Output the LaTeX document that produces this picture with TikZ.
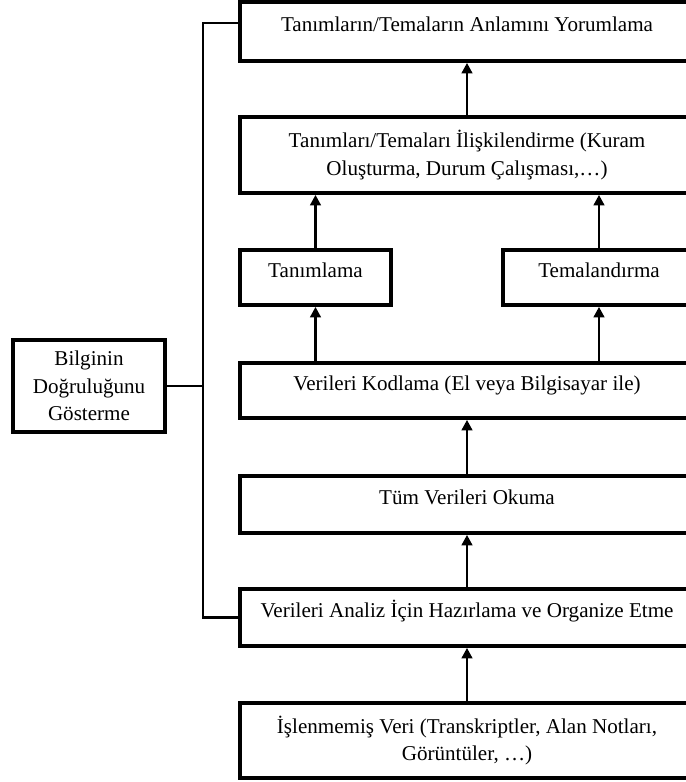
\documentclass[tikz,border=0pt]{standalone}
\usepackage{fontspec}
\setmainfont{Liberation Serif}
\usepackage{tikz}
\usetikzlibrary{arrows.meta,positioning}

\begin{document}
\begin{tikzpicture}[
    x=0.02cm, y=-0.02cm,
    mainbox/.style={draw, line width=2.1pt, inner sep=0pt,
                    minimum width=9.08cm, align=center,
                    font=\fontsize{12}{15.5}\selectfont},
    onerow/.style={text height=8.5pt, text depth=8.5pt},
    smallbox/.style={mainbox, minimum width=3.02cm},
    arr/.style={-{Triangle[length=6pt,width=6pt]}, line width=1.6pt},
    link/.style={line width=1.6pt}
  ]
  \useasboundingbox (0,0) rectangle (686,782);
  % Main column, top to bottom
  \node[mainbox, onerow, minimum height=1.18cm] (yorum) at (467,31.5)
        {Tanımların/Temaların Anlamını Yorumlama};
  \node[mainbox, minimum height=1.52cm] (iliski) at (467,155)
        {Tanımları/Temaları İlişkilendirme (Kuram\\Oluşturma, Durum Çalışması,\ldots)};
  \node[smallbox, onerow, minimum height=1.1cm] (tanim) at (315.5,277.5) {Tanımlama};
  \node[smallbox, onerow, minimum height=1.1cm, minimum width=3.84cm] (tema) at (599,277.5)
        {Temalandırma};
  \node[mainbox, onerow, minimum height=1.1cm] (kodla) at (467,390.5)
        {Verileri Kodlama (El veya Bilgisayar ile)};
  \node[mainbox, onerow, minimum height=1.14cm] (okuma) at (467,504.5)
        {Tüm Verileri Okuma};
  \node[mainbox, onerow, minimum height=1.14cm] (analiz) at (467,617.5)
        {Verileri Analiz İçin Hazırlama ve Organize Etme};
  \node[mainbox, minimum height=1.5cm] (ham) at (467,740.5)
        {İşlenmemiş Veri (Transkriptler, Alan Notları,\\Görüntüler, \ldots)};
  % Side box
  \node[smallbox, minimum width=3.04cm, minimum height=1.84cm] (bilgi) at (89,386)
        {Bilginin\\Doğruluğunu\\Gösterme};
  \coordinate (spine) at (203,0);
  % Arrows
  \draw[arr] (ham) -- (analiz);
  \draw[arr] (analiz) -- (okuma);
  \draw[arr] (okuma) -- (kodla);
  \draw[arr] (kodla.north -| tanim) -- (tanim);
  \draw[arr] (kodla.north -| tema) -- (tema);
  \draw[arr] (tanim) -- (iliski.south -| tanim);
  \draw[arr] (tema) -- (iliski.south -| tema);
  \draw[arr] (iliski) -- (yorum);
  % Side connector
  \draw[link] ([yshift=1.7mm]yorum.west) -| (spine |- analiz.west) -- (analiz.west);
  \draw[link] (bilgi.east) -- (spine |- bilgi.east);
\end{tikzpicture}
\end{document}
